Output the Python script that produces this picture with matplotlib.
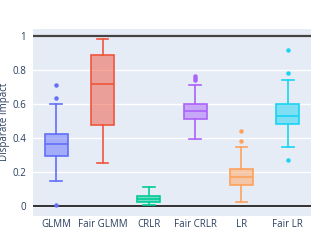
import matplotlib.pyplot as plt
import numpy as np

plt.rcParams['font.family'] = ['Open Sans', 'DejaVu Sans']

models = ["GLMM", "Fair GLMM", "CRLR", "Fair CRLR", "LR", "Fair LR"]
colors = ["#636EFA", "#EF553B", "#00CC96", "#AB63FA", "#FFA15A", "#19D3F3"]

# box summaries: low whisker, q1, median, q3, high whisker
whislo = [0.143, 0.25, 0.004, 0.395, 0.02, 0.346]
q1 = [0.291, 0.477, 0.025, 0.512, 0.121, 0.48]
med = [0.363, 0.715, 0.041, 0.555, 0.172, 0.527]
q3 = [0.42, 0.89, 0.057, 0.596, 0.219, 0.596]
whishi = [0.60, 0.984, 0.109, 0.709, 0.344, 0.742]
fliers = [[0.709, 0.635, 0.002], [], [], [0.764, 0.752, 0.740], [0.44, 0.379], [0.914, 0.781, 0.268]]

txt = "#2a3f5f"
fig = plt.figure(figsize=(3.35, 2.4), dpi=100)
ax = fig.add_axes([33/335, 1 - 216/240, 278/335, 187/240])
ax.set_facecolor("#E5ECF6")

stats = []
for i, m in enumerate(models):
    stats.append(dict(label=m, whislo=whislo[i], q1=q1[i], med=med[i], q3=q3[i],
                      whishi=whishi[i], fliers=fliers[i]))

for i, s in enumerate(stats):
    c = colors[i]
    ax.bxp([s], positions=[i], widths=0.5, patch_artist=True, showfliers=True,
           boxprops=dict(facecolor=c + "80", edgecolor=c, linewidth=1.2),
           medianprops=dict(color=c, linewidth=1.2),
           whiskerprops=dict(color=c, linewidth=1.2),
           capprops=dict(color=c, linewidth=1.2),
           capwidths=0.25,
           flierprops=dict(marker="o", markersize=2.2, markerfacecolor=c,
                           markeredgecolor=c, linestyle="none"))

ax.set_xlim(-0.5, 5.5)
ax.set_ylim(-0.06, 1.04)
ax.set_yticks([0, 0.2, 0.4, 0.6, 0.8, 1])
ax.set_yticklabels(["0", "0.2", "0.4", "0.6", "0.8", "1"])
ax.set_xticks(range(len(models)))
ax.set_xticklabels(models)
ax.grid(axis="y", color="white", linewidth=1)
ax.set_axisbelow(True)
ax.axhline(0, color="#222222", linewidth=1.3, zorder=1)
ax.axhline(1, color="#444444", linewidth=1.6, zorder=1)
for sp in ax.spines.values():
    sp.set_visible(False)
ax.tick_params(length=0, labelsize=7, colors=txt)
ax.tick_params(axis="x", pad=2)
ax.tick_params(axis="y", pad=5)
ax.set_ylabel("Disparate Impact", fontsize=7, color=txt)
ax.yaxis.set_label_coords(-(33 - 10) / 278, 0.505)

fig.savefig("out.png", dpi=100)
